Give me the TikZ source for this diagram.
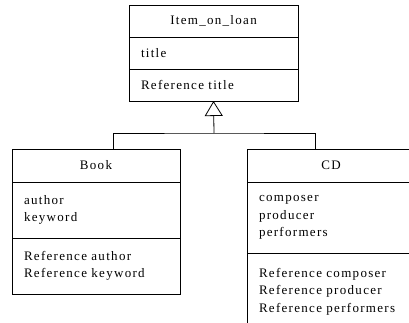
\documentclass[tikz,border=0pt]{standalone}
\usepackage{fontspec}
\setmainfont{Liberation Serif}[LetterSpace=10]
\usetikzlibrary{positioning,arrows.meta}
\begin{document}
\begin{tikzpicture}
		    [%%%%%%%%%%%%%%%%%%%%%%%%%%%%%%
		        x=1pt, y=-1pt,
		        classbox/.style={rectangle,draw=black,line width=0.8pt,inner sep=0pt,outer sep=0pt,
		                         font=\fontsize{13}{17.5}\selectfont},
		        headbox/.style={classbox,minimum height=33pt},
		        partbox/.style={classbox,align=left,inner xsep=12pt},
		    ]%%%%%%%%%%%%%%%%%%%%%%%%%%%%%%
		\fill[white] (0,0) rectangle (409,323);
		\clip (0,0) rectangle (409,323);

		\node[headbox, anchor=north west, minimum width=169pt, minimum height=32pt] (itemhead) at (129,5) {Item\_on\_loan};
		\node[partbox, below=0pt of itemhead, minimum width=169pt, text width=145pt, minimum height=32pt] (itemattr) {title};
		\node[partbox, below=0pt of itemattr, minimum width=169pt, text width=145pt, minimum height=32pt] (itemref) {Reference title};

		\node[headbox, anchor=north west, minimum width=168pt] (bookhead) at (12,149) {Book};
		\node[partbox, below=0pt of bookhead, minimum width=168pt, text width=144pt, minimum height=56pt] (bookattr) {author\\keyword};
		\node[partbox, below=0pt of bookattr, minimum width=168pt, text width=144pt, minimum height=56pt] (bookref) {Reference author\\Reference keyword};

		\node[headbox, anchor=north west, minimum width=168pt] (cdhead) at (247,149) {CD};
		\node[partbox, below=0pt of cdhead, minimum width=168pt, text width=144pt, minimum height=71pt] (cdattr) {composer\\producer\\performers};
		\node[partbox, below=0pt of cdattr, minimum width=168pt, text width=144pt, minimum height=77pt] (cdref) {Reference composer\\Reference producer\\Reference performers};

		\coordinate (fork) at (214,133);
		\draw[line width=0.8pt, -{Triangle[open, width=18pt, length=15pt]}] (fork) -- (itemref.south);
		\draw[line width=0.8pt] ([xshift=17pt]bookhead.north) |- (fork) -| ([xshift=-16pt]cdhead.north);

		\end{tikzpicture}
\end{document}
